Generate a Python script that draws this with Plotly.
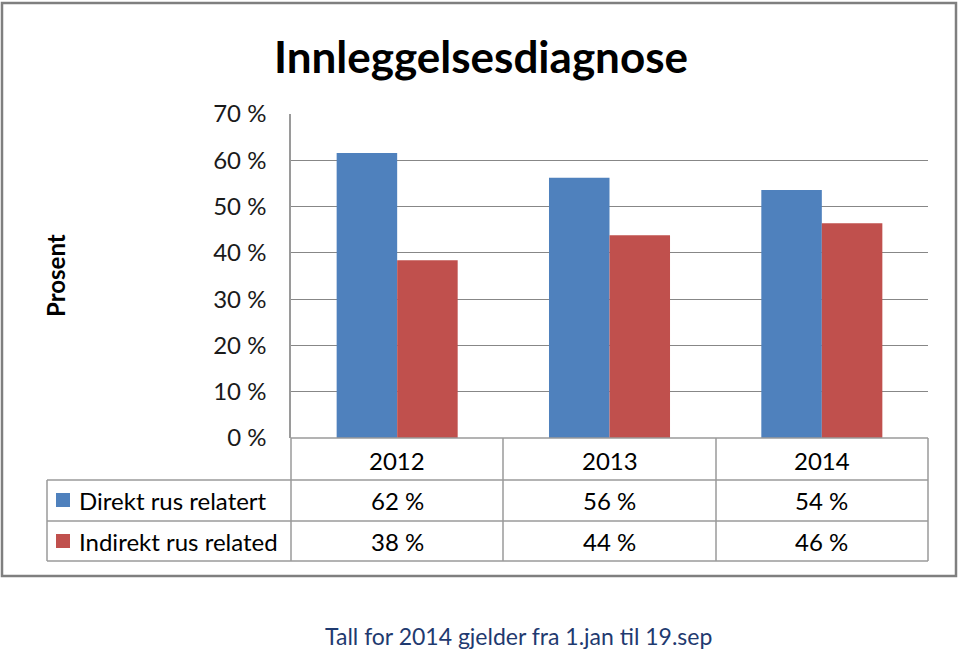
import plotly.graph_objects as go

# ---- data ----
years = ["2012", "2013", "2014"]
direkt = [61.6, 56.2, 53.6]
indirekt = [38.4, 43.8, 46.4]
series_names = ["Direkt rus relatert", "Indirekt rus related"]
colors = ["#4F81BD", "#C0504D"]
y_tickvals = [0, 10, 20, 30, 40, 50, 60, 70]
y_ticktext = [f"{v} %" for v in y_tickvals]
title = "Innleggelsesdiagnose"
y_title = "Prosent"
footnote = "Tall for 2014 gjelder fra 1.jan til 19.sep"

W, H = 960, 649
L, R, T, B = 291, 928, 114, 438
FONT = "Lato"


def px(x):
    return (x - L) / (R - L)


def py(y):
    return (B - y) / (B - T)


fig = go.Figure()
for name, vals, col in zip(series_names, [direkt, indirekt], colors):
    fig.add_trace(go.Bar(x=years, y=vals, name=name, marker=dict(color=col, line=dict(width=0))))

shapes = []
line_col = "#9a9a9a"


def hline(y, x0, x1):
    shapes.append(dict(type="line", xref="paper", yref="paper", x0=px(x0), x1=px(x1), y0=py(y), y1=py(y),
                       line=dict(color=line_col, width=1.5)))


def vline(x, y0, y1):
    shapes.append(dict(type="line", xref="paper", yref="paper", x0=px(x), x1=px(x), y0=py(y0), y1=py(y1),
                       line=dict(color=line_col, width=1.5)))


hline(438, 291, 928)
for yy in (480, 521, 561):
    hline(yy, 47, 928)
vline(47, 480, 561)
vline(291, 438, 561)
for xx in (503, 716, 928):
    vline(xx, 438, 561)

# outer chart border
shapes.append(dict(type="rect", xref="paper", yref="paper", x0=px(2), x1=px(956), y0=py(576), y1=py(3),
                   line=dict(color="#7f7f7f", width=2.5), fillcolor="rgba(0,0,0,0)", layer="below"))

annotations = []
row_y = [500, 541]
TFS = 24
for i, (name, vals, col) in enumerate(zip(series_names, [direkt, indirekt], colors)):
    # legend key
    shapes.append(dict(type="rect", xref="paper", yref="paper", x0=px(56), x1=px(70),
                       y0=py(row_y[i] + 7), y1=py(row_y[i] - 7), fillcolor=col, line=dict(width=0)))
    annotations.append(dict(text=name, xref="paper", yref="paper", x=px(77), y=py(row_y[i]),
                            xanchor="left", yanchor="middle", showarrow=False,
                            font=dict(family=FONT, size=TFS, color="#000")))
    for j, v in enumerate(vals):
        annotations.append(dict(text=f"{round(v)} %", xref="x", yref="paper", x=j, y=py(row_y[i]),
                                xanchor="center", yanchor="middle", showarrow=False,
                                font=dict(family=FONT, size=TFS, color="#000")))
for j, yr in enumerate(years):
    annotations.append(dict(text=yr, xref="x", yref="paper", x=j, y=py(460),
                            xanchor="center", yanchor="middle", showarrow=False,
                            font=dict(family=FONT, size=TFS, color="#000")))

annotations.append(dict(text=f"<b>{title}</b>", xref="paper", yref="paper", x=px(481), y=py(56),
                        xanchor="center", yanchor="middle", showarrow=False,
                        font=dict(family=FONT, size=44, color="#000")))
annotations.append(dict(text=f"<b>{y_title}</b>", xref="paper", yref="paper", x=px(55), y=py(276),
                        xanchor="center", yanchor="middle", showarrow=False, textangle=-90,
                        font=dict(family=FONT, size=24, color="#000")))
annotations.append(dict(text=footnote, xref="paper", yref="paper", x=px(518), y=py(636),
                        xanchor="center", yanchor="middle", showarrow=False,
                        font=dict(family=FONT, size=23, color="#1F3A70")))

fig.update_layout(
    width=W, height=H,
    margin=dict(l=L, r=W - R, t=T, b=H - B, pad=0),
    paper_bgcolor="white", plot_bgcolor="white",
    showlegend=False,
    barmode="group", bargap=0.43, bargroupgap=0,
    shapes=shapes, annotations=annotations,
)
fig.update_xaxes(type="category", range=[-0.5, len(years) - 0.5], showticklabels=False, showgrid=False,
                 zeroline=False, showline=False, ticks="")
fig.update_yaxes(range=[0, 70], tickvals=y_tickvals, ticktext=y_ticktext,
                 showgrid=True, gridcolor="#878787", gridwidth=1, zeroline=False,
                 showline=True, linecolor=line_col, linewidth=1.5, ticks="",
                 ticklabelstandoff=18,
                 tickfont=dict(family=FONT, size=24, color="#1a1a1a"))

fig.write_html("out.html", config={"displayModeBar": False},
               post_script="document.body.style.margin='0';document.body.style.overflow='hidden';")
